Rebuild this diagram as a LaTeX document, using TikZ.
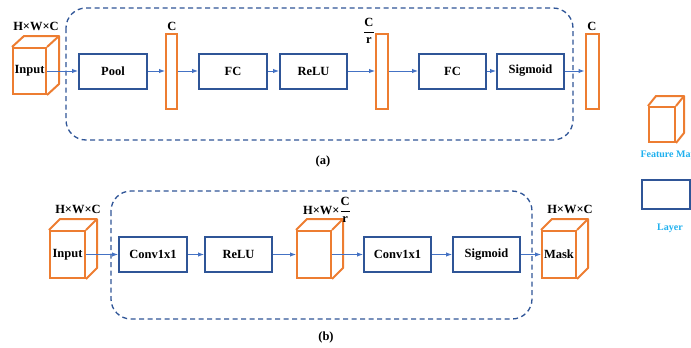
\documentclass[tikz,border=0pt]{standalone}
\usepackage{amsmath}
\usepackage{fontspec}
\setmainfont{Liberation Serif}
\usetikzlibrary{arrows.meta,calc}
\definecolor{fmap}{HTML}{ED7D31}
\definecolor{layerblue}{HTML}{2F5597}
\definecolor{arrowblue}{HTML}{4472C4}
\definecolor{legendcyan}{HTML}{1FB0EE}

\newcommand{\cubeback}[3]{%
  \draw [cubeline] (#1.north west) -- ++(#2,-#3) -- ($(#1.north east)+(#2,-#3)$) -- ($(#1.south east)+(#2,-#3)$) -- (#1.south east);
  \draw [cubeline] (#1.north east) -- ++(#2,-#3);}

\begin{document}
\begin{tikzpicture}[x=1pt, y=-1pt, font=\fontsize{12.5}{15}\selectfont\bfseries]

\tikzstyle{layer} = [rectangle, draw=layerblue, line width=2pt, minimum width=67pt, minimum height=35pt, inner sep=0pt]
\tikzstyle{bar} = [rectangle, draw=fmap, line width=2pt, minimum width=11pt, minimum height=75pt, inner sep=0pt]
\tikzstyle{cube} = [rectangle, draw=fmap, line width=2pt, minimum width=33pt, minimum height=46pt, inner sep=0pt]
\tikzstyle{cubeline} = [draw=fmap, line width=2pt, line join=round]
\tikzstyle{group} = [draw=layerblue, line width=1.3pt, dash pattern=on 5pt off 3.5pt, rounded corners=20pt]
\tikzstyle{arrow} = [draw=arrowblue, line width=1pt, -{Latex[length=6pt,width=4.5pt]}]
\tikzstyle{legend} = [text=legendcyan, font=\fontsize{10}{12}\selectfont\bfseries]

\useasboundingbox (0,0) rectangle (691,348);

% (a)
\draw [group] (66,8) rectangle (573,140);
\node (ina) [cube] at (29.5,71) {Input};
\cubeback{ina}{12}{11}
\node (ina lbl) at (36,26) {H×W×C};
\node (pool) [layer, minimum width=68pt] at (113,71) {Pool};
\node (ca) [bar] at (171.5,71) {};
\node (ca lbl) at (172,26) {C};
\node (fca) [layer, minimum width=68pt] at (233,71) {FC};
\node (relua) [layer] at (313.5,71) {ReLU};
\node (cra) [bar, minimum width=12pt] at (382,71) {};
\node (cra lbl) at (369,31) {$\dfrac{\textbf{C}}{\textbf{r}}$};
\node (fcb) [layer] at (452.5,71) {FC};
\node (siga) [layer] at (530.5,71) {Sigmoid};
\node (cb) [bar, minimum width=13pt] at (592,71) {};
\node (cb lbl) at (592,26) {C};

\draw [arrow] (ina) -- (pool);
\draw [arrow] (pool) -- (ca);
\draw [arrow] (ca) -- (fca);
\draw [arrow] (fca) -- (relua);
\draw [arrow] (relua) -- (cra);
\draw [arrow] (cra) -- (fcb);
\draw [arrow] (fcb) -- (siga);
\draw [arrow] (siga) -- (cb);
\node (capa) at (323,161) {(a)};

% (b)
\draw [group] (111,191) rectangle (532,319);
\node (inb) [cube, minimum width=35pt, minimum height=47pt] at (67.5,254.5) {Input};
\cubeback{inb}{11}{11}
\node (inb lbl) at (78,209) {H×W×C};
\node (convb) [layer, minimum width=68pt] at (153,254.5) {Conv1x1};
\node (relub) [layer] at (238.5,254.5) {ReLU};
\node (midb) [cube, minimum width=34pt, minimum height=47pt] at (314,254.5) {};
\cubeback{midb}{11}{11}
\node (midb lbl) at (327,210) {H×W×$\dfrac{\textbf{C}}{\textbf{r}}$};
\node (convc) [layer] at (397.5,254.5) {Conv1x1};
\node (sigb) [layer] at (486.5,254.5) {Sigmoid};
\node (mask) [cube, minimum width=34pt, minimum height=47pt] at (559,254.5) {Mask};
\cubeback{mask}{11}{11}
\node (mask lbl) at (570,209) {H×W×C};

\draw [arrow] (inb) -- (convb);
\draw [arrow] (convb) -- (relub);
\draw [arrow] (relub) -- (midb);
\draw [arrow] (midb) -- (convc);
\draw [arrow] (convc) -- (sigb);
\draw [arrow] (sigb) -- (mask);
\node (capb) at (326,337) {(b)};

% legend
\node (fmapkey) [cube, minimum width=26pt, minimum height=35pt] at (662,124.5) {};
\cubeback{fmapkey}{8}{10}
\node (fmapkey lbl) [legend, anchor=west] at (637,155) {Feature Map};
\node (layerkey) [layer, minimum width=48pt, minimum height=29pt] at (666,194.5) {};
\node (layerkey lbl) [legend] at (670,228) {Layer};
\end{tikzpicture}
\end{document}
